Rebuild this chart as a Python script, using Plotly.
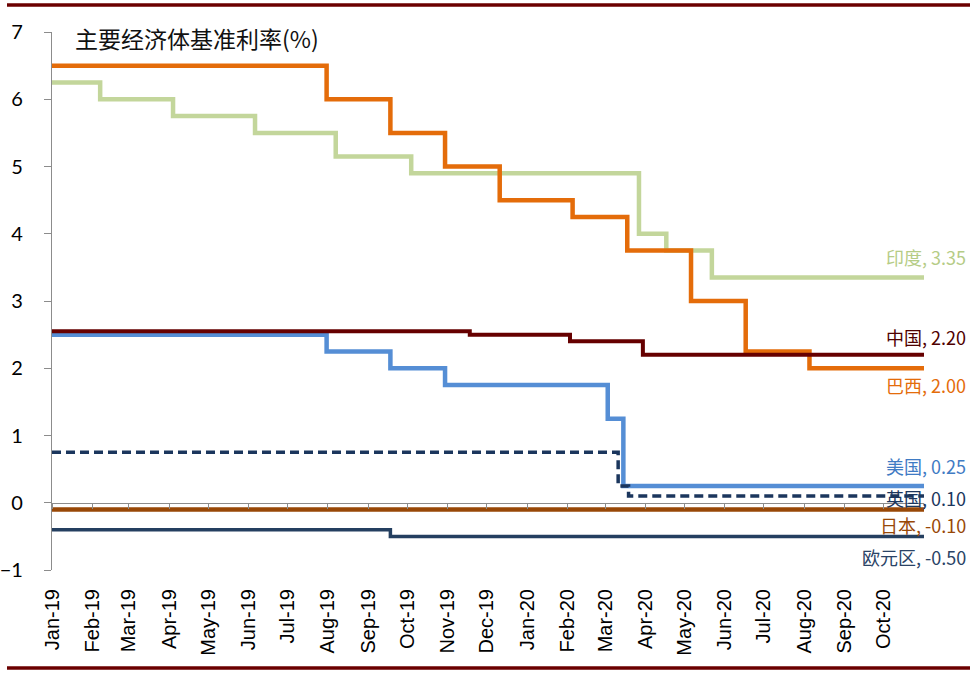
import plotly.graph_objects as go

# ---------------- data (change dates and policy-rate levels, %) ----------------
END_DATE = "2020-11-01"

india_dates = ["2019-01-01", "2019-02-07", "2019-04-04", "2019-06-06", "2019-08-07",
               "2019-10-04", "2020-03-27", "2020-04-17", "2020-05-22"]
india_vals = [6.25, 6.00, 5.75, 5.50, 5.15, 4.90, 4.00, 3.75, 3.35]

brazil_dates = ["2019-01-01", "2019-07-31", "2019-09-18", "2019-10-30", "2019-12-11",
                "2020-02-05", "2020-03-18", "2020-05-06", "2020-06-17", "2020-08-05"]
brazil_vals = [6.50, 6.00, 5.50, 5.00, 4.50, 4.25, 3.75, 3.00, 2.25, 2.00]

china_dates = ["2019-01-01", "2019-11-18", "2020-02-03", "2020-03-30"]
china_vals = [2.55, 2.50, 2.40, 2.20]

us_dates = ["2019-01-01", "2019-07-31", "2019-09-18", "2019-10-30", "2020-03-03", "2020-03-15"]
us_vals = [2.50, 2.25, 2.00, 1.75, 1.25, 0.25]

uk_dates = ["2019-01-01", "2020-03-11", "2020-03-19"]
uk_vals = [0.75, 0.25, 0.10]

japan_dates = ["2019-01-01"]
japan_vals = [-0.10]

euro_dates = ["2019-01-01", "2019-09-18"]
euro_vals = [-0.40, -0.50]

series_names = ["印度", "巴西", "中国", "美国", "英国", "日本", "欧元区"]
title_text = "主要经济体基准利率(%)"
y_ticks = [-1, 0, 1, 2, 3, 4, 5, 6, 7]
month_ticks = ["2019-01-01", "2019-02-01", "2019-03-01", "2019-04-01", "2019-05-01",
               "2019-06-01", "2019-07-01", "2019-08-01", "2019-09-01", "2019-10-01",
               "2019-11-01", "2019-12-01", "2020-01-01", "2020-02-01", "2020-03-01",
               "2020-04-01", "2020-05-01", "2020-06-01", "2020-07-01", "2020-08-01",
               "2020-09-01", "2020-10-01"]
month_labels = ["Jan-19", "Feb-19", "Mar-19", "Apr-19", "May-19", "Jun-19", "Jul-19",
                "Aug-19", "Sep-19", "Oct-19", "Nov-19", "Dec-19", "Jan-20", "Feb-20",
                "Mar-20", "Apr-20", "May-20", "Jun-20", "Jul-20", "Aug-20", "Sep-20",
                "Oct-20"]
axis_tick_dates = month_ticks + ["2020-11-01"]

# ---------------- styling ----------------
W, H = 976, 677
ML, MR, MT, MB = 52, 52, 32, 107
PW, PH = W - ML - MR, H - MT - MB

styles = {
    "印度": dict(color="#C3D69B", width=4.5, dash="solid", label_color="#B5CC86", yshift=20),
    "巴西": dict(color="#E46C0A", width=4.5, dash="solid", label_color="#E46C0A", yshift=-17),
    "中国": dict(color="#660000", width=4, dash="solid", label_color="#4F0000", yshift=18),
    "美国": dict(color="#558ED5", width=4.5, dash="solid", label_color="#3F7BC4", yshift=20),
    "英国": dict(color="#1B365D", width=3.5, dash="9px,5px", label_color="#1B365D", yshift=-2),
    "日本": dict(color="#984807", width=4.5, dash="solid", label_color="#984807", yshift=-16),
    "欧元区": dict(color="#243F60", width=3.5, dash="solid", label_color="#2A4366", yshift=-21),
}

data = {
    "印度": (india_dates, india_vals),
    "巴西": (brazil_dates, brazil_vals),
    "中国": (china_dates, china_vals),
    "美国": (us_dates, us_vals),
    "英国": (uk_dates, uk_vals),
    "日本": (japan_dates, japan_vals),
    "欧元区": (euro_dates, euro_vals),
}

draw_order = ["印度", "巴西", "美国", "中国", "英国", "日本", "欧元区"]

fig = go.Figure()
for name in draw_order:
    d, v = data[name]
    xs = list(d) + [END_DATE]
    ys = list(v) + [v[-1]]
    st = styles[name]
    fig.add_trace(go.Scatter(
        x=xs, y=ys, mode="lines", name=name, line_shape="hv",
        line=dict(color=st["color"], width=st["width"], dash=st["dash"]),
        xaxis="x2" if name == "日本" else "x",
        showlegend=False, hoverinfo="skip",
    ))

# right-side labels built from the last value of each series
label_x = (968 - ML) / PW
for name in series_names:
    d, v = data[name]
    st = styles[name]
    fig.add_annotation(
        xref="paper", yref="y", x=label_x, y=v[-1], yshift=st["yshift"],
        text=f"{name}, {v[-1]:.2f}", showarrow=False, xanchor="right", yanchor="middle",
        font=dict(family="Noto Sans CJK SC, Lato, sans-serif", size=18, color=st["label_color"]),
    )

# title
fig.add_annotation(
    xref="paper", yref="paper", x=(73 - ML) / PW, y=1 - (38 - MT) / PH,
    text=title_text, showarrow=False, xanchor="left", yanchor="middle",
    font=dict(family="Noto Sans CJK SC, sans-serif", size=23, color="#111111"),
)

# decorative dark-red rules at the top and bottom
rule_color = "#6B0000"
x0p, x1p = (7 - ML) / PW, (970 - ML) / PW
for py in (5, 668):
    yp = 1 - (py - MT) / PH
    fig.add_shape(type="line", xref="paper", yref="paper", x0=x0p, x1=x1p, y0=yp, y1=yp,
                  line=dict(color=rule_color, width=3.5))

axis_grey = "#8C8C8C"
fig.update_layout(
    width=W, height=H,
    margin=dict(l=ML, r=MR, t=MT, b=MB, pad=0, autoexpand=False),
    paper_bgcolor="white", plot_bgcolor="white",
    xaxis=dict(
        type="date", range=["2019-01-01", END_DATE], automargin=False,
        tickvals=month_ticks, ticktext=month_labels, tickangle=-90,
        showline=False, showgrid=False, zeroline=False, ticks="",
        ticklabelstandoff=14,
        tickfont=dict(family="Liberation Sans, Arial, sans-serif", size=20, color="#000000"),
        anchor="y",
    ),
    xaxis2=dict(
        type="date", overlaying="x", matches="x", anchor="free", position=1 / 8,
        tickvals=axis_tick_dates, showticklabels=False, automargin=False,
        showline=True, linecolor=axis_grey, linewidth=1.2,
        ticks="outside", ticklen=5, tickcolor=axis_grey, tickwidth=1,
        showgrid=False, zeroline=False,
    ),
    yaxis=dict(
        range=[-1, 7], tickvals=y_ticks, showgrid=False, zeroline=False, automargin=False,
        showline=True, linecolor=axis_grey, linewidth=1.2,
        ticks="outside", ticklen=7, tickcolor=axis_grey,
        ticklabelstandoff=17,
        tickfont=dict(family="Lato, Carlito, sans-serif", size=20, color="#000000"),
    ),
)

fig.write_html("out.html", config={"displayModeBar": False},
               post_script="document.body.style.margin='0';")
